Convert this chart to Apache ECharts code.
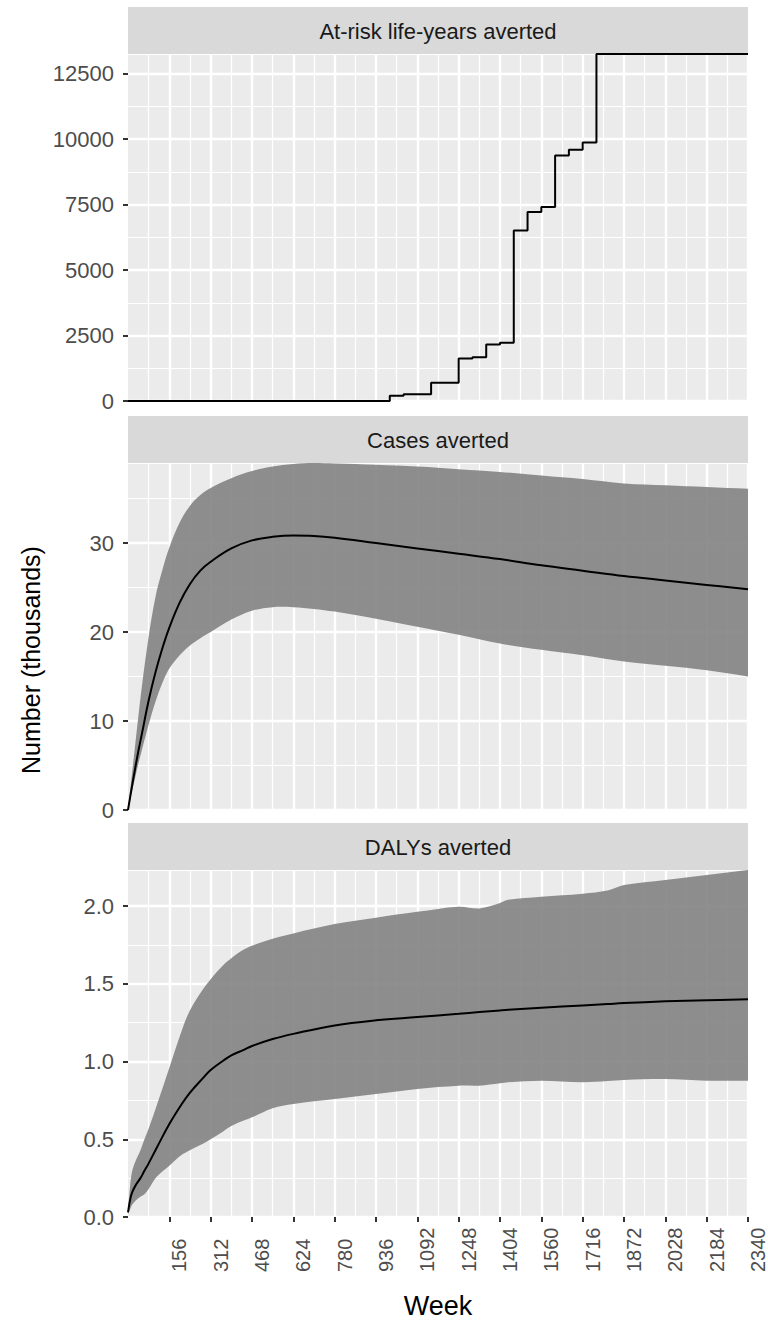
<!DOCTYPE html>
<html>
<head>
<meta charset="utf-8">
<script src="https://cdn.jsdelivr.net/npm/echarts@6/dist/echarts.min.js"></script>
<style>
html,body{margin:0;padding:0;background:#ffffff;}
#chart{width:768px;height:1321px;}
</style>
</head>
<body>
<div id="chart"></div>
<script>
// ---------------- data ----------------
const panelTitles = ['At-risk life-years averted', 'Cases averted', 'DALYs averted'];
const xTitle = 'Week';
const yTitle = 'Number (thousands)';
const xTickValues = [156, 312, 468, 624, 780, 936, 1092, 1248, 1404, 1560, 1716, 1872, 2028, 2184, 2340];
const yTicksRisk = [0, 2500, 5000, 7500, 10000, 12500];
const yTicksCases = [0, 10, 20, 30];
const yTicksDalys = [0, 0.5, 1.0, 1.5, 2.0];

// At-risk life-years averted (step function: value holds from week until next week)
const stepWeeks  = [0, 988, 1040, 1144, 1248, 1300, 1352, 1404, 1456, 1508, 1560, 1612, 1664, 1716, 1768, 2340];
const stepValues = [0, 200, 260, 700, 1620, 1670, 2160, 2220, 6510, 7220, 7410, 9370, 9590, 9870, 13250, 13250];

// Cases averted
const casesWeeks = [0, 13, 26, 39, 52, 78, 104, 130, 156, 195, 234, 273, 312, 390, 468, 546, 624, 702, 780, 936, 1092, 1248, 1404, 1560, 1716, 1872, 2028, 2184, 2340];
const casesMean  = [0, 2.3, 4.5, 6.6, 8.5, 12.3, 15.5, 18.2, 20.5, 23.3, 25.4, 26.9, 27.9, 29.4, 30.3, 30.7, 30.85, 30.8, 30.6, 30.0, 29.4, 28.8, 28.2, 27.5, 26.9, 26.3, 25.8, 25.3, 24.8];
const casesLower = [0, 1.8, 3.5, 5.2, 6.7, 9.6, 12.2, 14.3, 15.9, 17.4, 18.5, 19.3, 20.0, 21.4, 22.4, 22.8, 22.8, 22.6, 22.3, 21.5, 20.6, 19.7, 18.7, 18.0, 17.4, 16.7, 16.2, 15.7, 15.0];
const casesUpper = [0, 3.5, 7.0, 10.5, 13.8, 19.5, 24.0, 27.0, 29.5, 32.3, 34.2, 35.4, 36.2, 37.3, 38.1, 38.6, 38.9, 39.0, 38.95, 38.8, 38.6, 38.3, 38.0, 37.6, 37.2, 36.7, 36.5, 36.3, 36.1];

// DALYs averted
const dalysWeeks = [0, 8, 16, 31, 47, 62, 78, 109, 156, 203, 234, 281, 312, 359, 390, 437, 468, 546, 624, 780, 936, 1092, 1248, 1326, 1404, 1435, 1560, 1716, 1810, 1872, 2028, 2184, 2340];
const dalysMean  = [0.03, 0.11, 0.16, 0.21, 0.25, 0.297, 0.345, 0.447, 0.598, 0.727, 0.80, 0.89, 0.945, 1.005, 1.04, 1.075, 1.10, 1.145, 1.178, 1.232, 1.265, 1.286, 1.307, 1.318, 1.329, 1.333, 1.346, 1.361, 1.37, 1.376, 1.387, 1.394, 1.40];
const dalysLower = [0.02, 0.05, 0.08, 0.11, 0.13, 0.146, 0.18, 0.26, 0.33, 0.40, 0.43, 0.47, 0.50, 0.55, 0.585, 0.62, 0.641, 0.70, 0.727, 0.759, 0.791, 0.824, 0.845, 0.845, 0.86, 0.867, 0.877, 0.867, 0.875, 0.882, 0.888, 0.877, 0.877];
const dalysUpper = [0.05, 0.2, 0.297, 0.37, 0.43, 0.50, 0.57, 0.72, 0.96, 1.20, 1.33, 1.46, 1.53, 1.62, 1.665, 1.72, 1.745, 1.79, 1.824, 1.884, 1.925, 1.963, 1.996, 1.985, 2.02, 2.04, 2.06, 2.08, 2.10, 2.135, 2.168, 2.2, 2.232];

// ---------------- layout / style ----------------
const FONT = "'Liberation Sans', Arial, Helvetica, sans-serif";
const PLOT_LEFT = 128, PLOT_W = 620, PLOT_H = 347, STRIP_H = 47;
const plotTops = [54, 463, 870];
const yMajor = [2500, 10, 0.5];
const yTickSets = [yTicksRisk, yTicksCases, yTicksDalys];
const yMaxes = [Math.max(...stepValues), Math.max(...casesUpper), Math.max(...dalysUpper)];
const yFmt = [v => String(v), v => String(v), v => v.toFixed(1)];
const BAND = 'rgba(127,127,127,0.88)';

// step path built from the step arrays
const stepData = [];
for (let i = 0; i < stepWeeks.length; i++) {
  stepData.push([stepWeeks[i], stepValues[i]]);
  if (i < stepWeeks.length - 1) stepData.push([stepWeeks[i + 1], stepValues[i]]);
}

function bandSeries(idx, weeks, lower, upper) {
  return {
    type: 'custom', xAxisIndex: idx, yAxisIndex: idx, z: 2, silent: true, clip: true,
    data: weeks.map((w, i) => [w, lower[i], upper[i]]),
    encode: { x: 0, y: [1, 2] },
    renderItem: function (params, api) {
      if (params.dataIndex !== 0) return;
      const n = weeks.length;
      const pts = [];
      // corner points are repeated so the smoothing keeps sharp ends
      pts.push(api.coord([weeks[0], upper[0]]));
      for (let i = 0; i < n; i++) pts.push(api.coord([weeks[i], upper[i]]));
      pts.push(api.coord([weeks[n - 1], upper[n - 1]]));
      pts.push(api.coord([weeks[n - 1], lower[n - 1]]));
      for (let i = n - 1; i >= 0; i--) pts.push(api.coord([weeks[i], lower[i]]));
      pts.push(api.coord([weeks[0], lower[0]]));
      const c0 = api.coord([0, 0]);
      const c1 = api.coord([2340, yMaxes[idx]]);
      return {
        type: 'polygon',
        shape: { points: pts, smooth: 0.35, smoothConstraint: [[c0[0], c1[1]], [c1[0], c0[1]]] },
        style: { fill: BAND }
      };
    }
  };
}
function lineSeries(idx, data, smooth) {
  return {
    type: 'line', xAxisIndex: idx, yAxisIndex: idx, z: 3, silent: true,
    data: data, showSymbol: false, symbol: 'none', smooth: smooth,
    lineStyle: { color: '#000000', width: 2 }, clip: true, animation: false
  };
}

const grids = plotTops.map(t => ({
  left: PLOT_LEFT, width: PLOT_W, top: t, height: PLOT_H,
  show: true, backgroundColor: '#EBEBEB', borderWidth: 0, containLabel: false
}));

const xAxes = plotTops.map((t, i) => ({
  type: 'value', gridIndex: i, min: 0, max: 2340, interval: 156,
  axisLine: { show: false },
  axisTick: { show: i === 2, customValues: xTickValues, length: 5, lineStyle: { color: '#333333', width: 2 } },
  axisLabel: {
    show: i === 2, customValues: xTickValues, rotate: 90, align: 'left', verticalAlign: 'top',
    margin: 55, color: '#4D4D4D', fontSize: 20, fontFamily: FONT, formatter: v => String(v)
  },
  splitLine: { show: true, lineStyle: { color: '#FFFFFF', width: 2.4 } },
  minorTick: { show: false, splitNumber: 2 },
  minorSplitLine: { show: true, lineStyle: { color: '#FFFFFF', width: 1.2 } },
  name: i === 2 ? xTitle : '', nameLocation: 'middle', nameGap: 89,
  nameTextStyle: { fontSize: 27, color: '#000000', fontFamily: FONT, verticalAlign: 'middle' }
}));

const yAxes = [];
for (let i = 0; i < 3; i++) {
  yAxes.push({
    type: 'value', gridIndex: i, min: 0, max: yMaxes[i], interval: yMajor[i],
    axisLine: { show: false },
    axisTick: { show: true, customValues: yTickSets[i], length: 5, lineStyle: { color: '#333333', width: 2 } },
    axisLabel: { customValues: yTickSets[i], formatter: yFmt[i], margin: 14, color: '#4D4D4D', fontSize: 22, fontFamily: FONT },
    splitLine: { show: true, lineStyle: { color: '#FFFFFF', width: 2.4 } }
  });
}
for (let i = 0; i < 3; i++) {
  yAxes.push({
    type: 'value', gridIndex: i, min: 0, max: yMaxes[i], interval: yMajor[i] / 2,
    axisLine: { show: false }, axisTick: { show: false }, axisLabel: { show: false },
    splitLine: { show: true, lineStyle: { color: '#FFFFFF', width: 1.2 } }
  });
}

const graphics = panelTitles.map((t, i) => ({
  type: 'group', z: 100,
  children: [
    { type: 'rect', shape: { x: PLOT_LEFT, y: plotTops[i] - STRIP_H, width: PLOT_W, height: STRIP_H }, style: { fill: '#D9D9D9' } },
    { type: 'text', x: PLOT_LEFT + PLOT_W / 2, y: plotTops[i] - STRIP_H / 2 + 1,
      style: { text: t, fill: '#1A1A1A', fontSize: 22, fontFamily: FONT, align: 'center', verticalAlign: 'middle' } }
  ]
}));
graphics.push({
  type: 'text', x: 31, y: 660, rotation: Math.PI / 2, z: 100,
  style: { text: yTitle, fill: '#000000', fontSize: 25, fontFamily: FONT, align: 'center', verticalAlign: 'middle' }
});

const option = {
  animation: false,
  backgroundColor: '#FFFFFF',
  grid: grids,
  xAxis: xAxes,
  yAxis: yAxes,
  graphic: graphics,
  series: [
    lineSeries(0, stepData, false),
    bandSeries(1, casesWeeks, casesLower, casesUpper),
    lineSeries(1, casesWeeks.map((w, i) => [w, casesMean[i]]), 0.4),
    bandSeries(2, dalysWeeks, dalysLower, dalysUpper),
    lineSeries(2, dalysWeeks.map((w, i) => [w, dalysMean[i]]), 0.4)
  ]
};

const chart = echarts.init(document.getElementById('chart'), null, { renderer: 'svg', width: 768, height: 1321 });
chart.setOption(option);
</script>
</body>
</html>
